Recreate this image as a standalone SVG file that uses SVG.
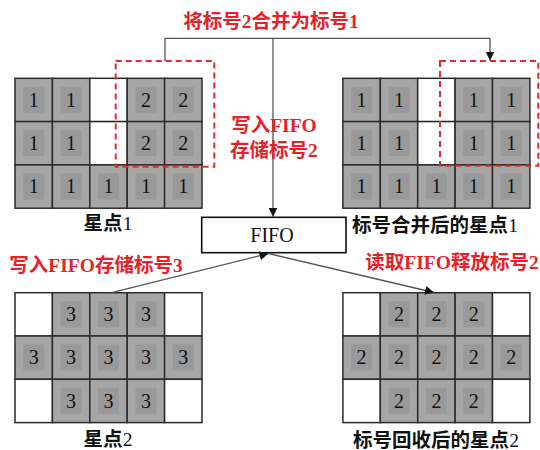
<svg xmlns="http://www.w3.org/2000/svg" xmlns:xlink="http://www.w3.org/1999/xlink" width="540" height="450" viewBox="0 0 540 450">
<style>
.o{fill:#a6a6a6;stroke:#2b2b2b;stroke-width:1.5}
.w{fill:#ffffff;stroke:#2b2b2b;stroke-width:1.5}
.i{fill:#999999}
.d{font-family:"Liberation Serif","Times New Roman",serif;font-size:20px;text-anchor:middle;fill:#111}
.lab{font-family:"Liberation Serif","Noto Sans CJK SC",sans-serif;font-size:19.5px;font-weight:bold;text-anchor:middle;fill:#111}
.red{font-family:"Liberation Serif","Noto Sans CJK SC",sans-serif;font-size:19.5px;font-weight:bold;text-anchor:middle;fill:#e8202a}
.n{font-weight:normal}
.dash{fill:none;stroke:#e32b2b;stroke-width:2;stroke-dasharray:6 4}
.con{fill:none;stroke:#555;stroke-width:1.3}
</style>
<defs>
<g id="gc"><rect class="o" width="37.4" height="43.3"/><rect class="i" x="8.2" y="8.5" width="21" height="26"/></g>
<g id="wc"><rect class="w" width="37.4" height="43.3"/></g>
<marker id="ah" viewBox="0 0 10 10" refX="10" refY="5" markerWidth="9" markerHeight="9" markerUnits="userSpaceOnUse" orient="auto"><path d="M0,0 L10,5 L0,10 Z" fill="#111"/></marker>
</defs>

<g id="grid1" transform="translate(15,78.3)">
<use xlink:href="#gc" x="0" y="0"/><use xlink:href="#gc" x="37.4" y="0"/><use xlink:href="#wc" x="74.8" y="0"/><use xlink:href="#gc" x="112.2" y="0"/><use xlink:href="#gc" x="149.6" y="0"/>
<use xlink:href="#gc" x="0" y="43.3"/><use xlink:href="#gc" x="37.4" y="43.3"/><use xlink:href="#wc" x="74.8" y="43.3"/><use xlink:href="#gc" x="112.2" y="43.3"/><use xlink:href="#gc" x="149.6" y="43.3"/>
<use xlink:href="#gc" x="0" y="86.6"/><use xlink:href="#gc" x="37.4" y="86.6"/><use xlink:href="#gc" x="74.8" y="86.6"/><use xlink:href="#gc" x="112.2" y="86.6"/><use xlink:href="#gc" x="149.6" y="86.6"/>
<text class="d" x="18.7" y="28.5">1</text><text class="d" x="56.1" y="28.5">1</text><text class="d" x="130.9" y="28.5">2</text><text class="d" x="168.3" y="28.5">2</text>
<text class="d" x="18.7" y="71.8">1</text><text class="d" x="56.1" y="71.8">1</text><text class="d" x="130.9" y="71.8">2</text><text class="d" x="168.3" y="71.8">2</text>
<text class="d" x="18.7" y="115.1">1</text><text class="d" x="56.1" y="115.1">1</text><text class="d" x="93.5" y="115.1">1</text><text class="d" x="130.9" y="115.1">1</text><text class="d" x="168.3" y="115.1">1</text>
</g>
<g id="dash1"><rect class="dash" x="115.7" y="61" width="98.6" height="105.7"/></g>
<g id="label1"><text class="lab" x="108" y="229.5">星点<tspan class="n">1</tspan></text></g>

<g id="grid2" transform="translate(342.9,78.3)">
<use xlink:href="#gc" x="0" y="0"/><use xlink:href="#gc" x="37.4" y="0"/><use xlink:href="#wc" x="74.8" y="0"/><use xlink:href="#gc" x="112.2" y="0"/><use xlink:href="#gc" x="149.6" y="0"/>
<use xlink:href="#gc" x="0" y="43.3"/><use xlink:href="#gc" x="37.4" y="43.3"/><use xlink:href="#wc" x="74.8" y="43.3"/><use xlink:href="#gc" x="112.2" y="43.3"/><use xlink:href="#gc" x="149.6" y="43.3"/>
<use xlink:href="#gc" x="0" y="86.6"/><use xlink:href="#gc" x="37.4" y="86.6"/><use xlink:href="#gc" x="74.8" y="86.6"/><use xlink:href="#gc" x="112.2" y="86.6"/><use xlink:href="#gc" x="149.6" y="86.6"/>
<text class="d" x="18.7" y="28.5">1</text><text class="d" x="56.1" y="28.5">1</text><text class="d" x="130.9" y="28.5">1</text><text class="d" x="168.3" y="28.5">1</text>
<text class="d" x="18.7" y="71.8">1</text><text class="d" x="56.1" y="71.8">1</text><text class="d" x="130.9" y="71.8">1</text><text class="d" x="168.3" y="71.8">1</text>
<text class="d" x="18.7" y="115.1">1</text><text class="d" x="56.1" y="115.1">1</text><text class="d" x="93.5" y="115.1">1</text><text class="d" x="130.9" y="115.1">1</text><text class="d" x="168.3" y="115.1">1</text>
</g>
<g id="dash2"><rect class="dash" x="440" y="61" width="98.3" height="104.7"/></g>
<g id="label2"><text class="lab" x="435" y="231.5">标号合并后的星点<tspan class="n">1</tspan></text></g>

<g id="grid3" transform="translate(15,292.7)">
<use xlink:href="#wc" x="0" y="0"/><use xlink:href="#gc" x="37.4" y="0"/><use xlink:href="#gc" x="74.8" y="0"/><use xlink:href="#gc" x="112.2" y="0"/><use xlink:href="#wc" x="149.6" y="0"/>
<use xlink:href="#gc" x="0" y="43.3"/><use xlink:href="#gc" x="37.4" y="43.3"/><use xlink:href="#gc" x="74.8" y="43.3"/><use xlink:href="#gc" x="112.2" y="43.3"/><use xlink:href="#gc" x="149.6" y="43.3"/>
<use xlink:href="#wc" x="0" y="86.6"/><use xlink:href="#gc" x="37.4" y="86.6"/><use xlink:href="#gc" x="74.8" y="86.6"/><use xlink:href="#gc" x="112.2" y="86.6"/><use xlink:href="#wc" x="149.6" y="86.6"/>
<text class="d" x="56.1" y="28.5">3</text><text class="d" x="93.5" y="28.5">3</text><text class="d" x="130.9" y="28.5">3</text>
<text class="d" x="18.7" y="71.8">3</text><text class="d" x="56.1" y="71.8">3</text><text class="d" x="93.5" y="71.8">3</text><text class="d" x="130.9" y="71.8">3</text><text class="d" x="168.3" y="71.8">3</text>
<text class="d" x="56.1" y="115.1">3</text><text class="d" x="93.5" y="115.1">3</text><text class="d" x="130.9" y="115.1">3</text>
</g>
<g id="label3"><text class="lab" x="108" y="446">星点<tspan class="n">2</tspan></text></g>

<g id="grid4" transform="translate(342.9,292.7)">
<use xlink:href="#wc" x="0" y="0"/><use xlink:href="#gc" x="37.4" y="0"/><use xlink:href="#gc" x="74.8" y="0"/><use xlink:href="#gc" x="112.2" y="0"/><use xlink:href="#wc" x="149.6" y="0"/>
<use xlink:href="#gc" x="0" y="43.3"/><use xlink:href="#gc" x="37.4" y="43.3"/><use xlink:href="#gc" x="74.8" y="43.3"/><use xlink:href="#gc" x="112.2" y="43.3"/><use xlink:href="#gc" x="149.6" y="43.3"/>
<use xlink:href="#wc" x="0" y="86.6"/><use xlink:href="#gc" x="37.4" y="86.6"/><use xlink:href="#gc" x="74.8" y="86.6"/><use xlink:href="#gc" x="112.2" y="86.6"/><use xlink:href="#wc" x="149.6" y="86.6"/>
<text class="d" x="56.1" y="28.5">2</text><text class="d" x="93.5" y="28.5">2</text><text class="d" x="130.9" y="28.5">2</text>
<text class="d" x="18.7" y="71.8">2</text><text class="d" x="56.1" y="71.8">2</text><text class="d" x="93.5" y="71.8">2</text><text class="d" x="130.9" y="71.8">2</text><text class="d" x="168.3" y="71.8">2</text>
<text class="d" x="56.1" y="115.1">2</text><text class="d" x="93.5" y="115.1">2</text><text class="d" x="130.9" y="115.1">2</text>
</g>
<g id="label4"><text class="lab" x="436" y="447">标号回收后的星点<tspan class="n">2</tspan></text></g>

<g id="fifo">
<rect x="201.7" y="217.3" width="144.3" height="35.4" fill="#fff" stroke="#111" stroke-width="1.6"/>
<text x="272" y="242" font-family="Liberation Serif, Times New Roman, serif" font-size="20" text-anchor="middle" fill="#111">FIFO</text>
</g>

<g id="connectors">
<path class="con" d="M165,61 V38.3 H490 V60.5" marker-end="url(#ah)"/>
<path class="con" d="M273,38.3 V216.8" marker-end="url(#ah)"/>
<path class="con" d="M111.7,292.7 L268.5,253.5" marker-end="url(#ah)"/>
<path class="con" d="M268.5,253.5 L434,292.5" marker-end="url(#ah)"/>
</g>

<g id="labels-red">
<text class="red" x="271" y="27.5">将标号2合并为标号1</text>
<text class="red" x="274" y="132">写入FIFO</text>
<text class="red" x="274" y="157">存储标号2</text>
<text class="red" x="96" y="272">写入FIFO存储标号3</text>
<text class="red" x="452" y="269">读取FIFO释放标号2</text>
</g>
</svg>
